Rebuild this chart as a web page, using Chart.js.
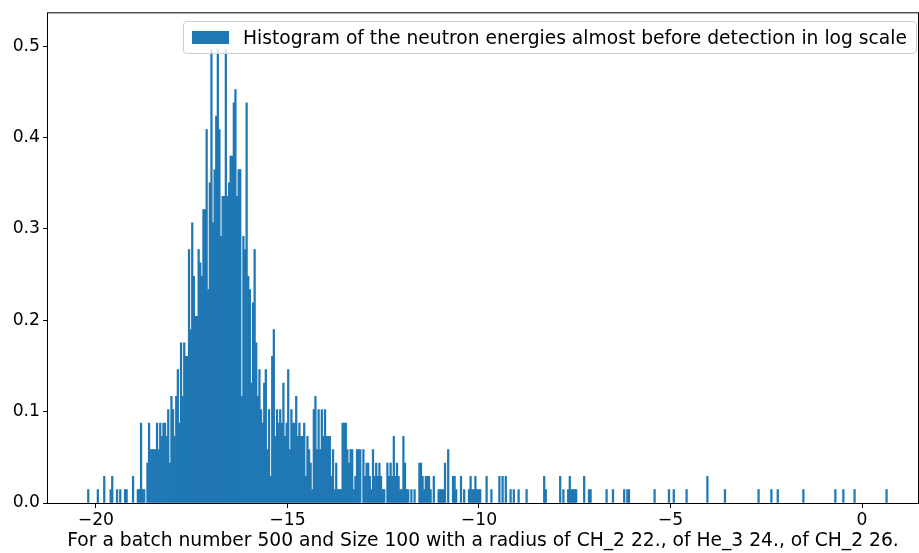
<!DOCTYPE html>
<html>
<head>
<meta charset="utf-8">
<title>Neutron energy histogram</title>
<script src="https://cdn.jsdelivr.net/npm/chart.js@4.4.1/dist/chart.umd.min.js"></script>
<style>
	html, body { margin: 0; padding: 0; background: #fff; }
	.hist { position: relative; width: 919px; height: 553px; }
	.hist__legend {
		position: absolute;
		box-sizing: border-box;
		height: 33px;
		padding: 0 7px 0 8px;
		display: flex;
		align-items: center;
		background: rgba(255, 255, 255, 0.8);
		border: 1px solid #cccccc;
		border-radius: 4px;
		font-family: 'DejaVu Sans', sans-serif;
		font-size: 18.7px;
		color: #000;
		white-space: nowrap;
	}
	.hist__legend-patch {
		display: inline-block;
		width: 37px;
		height: 13px;
		margin-right: 14px;
		background: #1f77b4;
	}
</style>
</head>
<body>
<div class="hist">
	<canvas id="hist__chart" width="919" height="553"></canvas>
	<div class="hist__legend" id="hist__legend"><span class="hist__legend-patch"></span><span class="hist__legend-text"></span></div>
</div>
<script>
// histogram bins (log energy), counts
const binStart = -20.22;
const binWidth = 0.04176;
const densityPerCount = 0.0146;

// bins 0..274, one count per bin
const headCounts = [
	1, 0, 0, 0, 0, 0, 1, 0, 0, 0,
	2, 0, 0, 0, 1, 2, 0, 0, 1, 0,
	1, 0, 0, 1, 1, 0, 0, 0, 2, 0,
	0, 1, 1, 6, 1, 1, 0, 3, 6, 4,
	4, 4, 4, 6, 4, 6, 5, 6, 6, 5,
	7, 3, 8, 7, 5, 8, 10, 6, 12, 8,
	12, 11, 11, 19, 13, 21, 17, 14, 14, 19,
	18, 17, 22, 22, 28, 16, 24, 34, 21, 25,
	29, 34, 28, 20, 23, 23, 34, 23, 24, 26,
	26, 30, 31, 23, 25, 25, 8, 20, 19, 30,
	17, 16, 9, 15, 19, 12, 8, 10, 7, 6,
	9, 10, 4, 7, 2, 11, 13, 5, 7, 6,
	7, 6, 9, 5, 6, 10, 4, 7, 6, 6,
	8, 5, 6, 5, 5, 6, 2, 5, 4, 3,
	1, 7, 8, 4, 7, 4, 7, 5, 7, 5,
	5, 5, 2, 4, 1, 3, 1, 1, 1, 6,
	6, 6, 4, 3, 4, 4, 1, 2, 4, 4,
	4, 0, 4, 2, 3, 3, 2, 1, 4, 2,
	3, 2, 3, 2, 1, 1, 0, 3, 2, 3,
	2, 5, 2, 3, 2, 1, 1, 5, 3, 1,
	1, 0, 1, 0, 1, 0, 0, 3, 3, 2,
	1, 2, 2, 2, 1, 0, 2, 0, 0, 1,
	1, 1, 1, 3, 0, 4, 0, 0, 2, 2,
	1, 0, 0, 2, 0, 1, 0, 0, 1, 2,
	1, 1, 2, 1, 1, 1, 0, 0, 0, 2,
	0, 0, 1, 0, 0, 0, 0, 2, 0, 2,
	0, 2, 0, 0, 1, 0, 1, 0, 0, 1,
	0, 0, 0, 0, 1,
];

// sparse tail: bin index and count
const tailBins = [285, 286, 295, 297, 300, 301, 302, 303, 304, 305, 310, 313, 314, 324, 328, 335, 337, 338, 354, 363, 366, 374, 387, 398, 419, 427, 431, 447, 467, 472, 479, 499];
const tailCounts = [2, 1, 2, 1, 1, 2, 1, 1, 1, 1, 2, 1, 1, 1, 1, 1, 1, 1, 1, 1, 1, 1, 2, 1, 1, 1, 1, 1, 1, 1, 1, 1];

const xTicks = [-20, -15, -10, -5, 0];
const yTicks = [0, 0.1, 0.2, 0.3, 0.4, 0.5];

const legendLabel = 'Histogram of the neutron energies almost before detection in log scale';
const xTitle = 'For a batch number 500 and Size 100 with a radius of CH_2 22., of He_3 24., of CH_2 26.';

document.addEventListener('DOMContentLoaded', function () {
	const ctx = document.getElementById('hist__chart').getContext('2d');
	const legendEl = document.getElementById('hist__legend');
	legendEl.querySelector('.hist__legend-text').textContent = legendLabel;

	const points = [];
	headCounts.forEach((c, k) => {
		if (c > 0) points.push({ x: binStart + (k + 0.5) * binWidth, y: c * densityPerCount });
	});
	tailBins.forEach((k, i) => {
		points.push({ x: binStart + (k + 0.5) * binWidth, y: tailCounts[i] * densityPerCount });
	});

	const tickFont = { family: "'DejaVu Sans', sans-serif", size: 17.2 };
	const titleFont = { family: "'DejaVu Sans', sans-serif", size: 18.7 };
	const minus = v => (v < 0 ? '\u2212' + Math.abs(v) : String(v));

	// box round the axes, drawn over the bars like matplotlib spines
	const frame = {
		id: 'frame',
		afterDraw(chart) {
			const a = chart.chartArea;
			const c = chart.ctx;
			c.save();
			c.strokeStyle = '#000';
			c.lineWidth = 1;
			c.strokeRect(a.left - 0.5, a.top - 0.5, a.right - a.left + 1, a.bottom - a.top + 1);
			c.restore();
		},
		afterLayout(chart) {
			const a = chart.chartArea;
			legendEl.style.top = a.top + 8 + 'px';
			legendEl.style.left = a.left + 135 + 'px';
			legendEl.style.width = a.right - a.left - 136 + 'px';
		},
	};

	new Chart(ctx, {
		type: 'bar',
		data: {
			datasets: [
				{
					label: legendLabel,
					data: points,
					backgroundColor: '#1f77b4',
					borderWidth: 0,
					barPercentage: 1,
					categoryPercentage: 1,
				},
			],
		},
		options: {
			responsive: false,
			animation: false,
			events: [],
			layout: { padding: { top: 12, right: 1, left: 0, bottom: 0 } },
			plugins: {
				legend: { display: false },
				tooltip: { enabled: false },
			},
			scales: {
				x: {
					type: 'linear',
					offset: false,
					min: -21.25,
					max: 1.46,
					afterFit: s => { s.height = 50; },
					afterBuildTicks: s => { s.ticks = xTicks.map(v => ({ value: v })); },
					border: { display: false },
					grid: { offset: false, drawOnChartArea: false, drawTicks: true, tickLength: 5, tickColor: '#000', tickWidth: 1 },
					ticks: { color: '#000', font: tickFont, padding: 2, maxRotation: 0, callback: v => minus(v) },
					title: { display: true, text: xTitle, color: '#000', font: titleFont, padding: { top: 0, bottom: 1 } },
				},
				y: {
					type: 'linear',
					min: 0,
					max: 0.536,
					afterFit: s => { s.width = 48; },
					afterBuildTicks: s => { s.ticks = yTicks.map(v => ({ value: v })); },
					border: { display: false },
					grid: { drawOnChartArea: false, drawTicks: true, tickLength: 5, tickColor: '#000', tickWidth: 1 },
					ticks: { color: '#000', font: tickFont, padding: 3, callback: v => v.toFixed(1) },
				},
			},
		},
		plugins: [frame],
	});
});
</script>
</body>
</html>
